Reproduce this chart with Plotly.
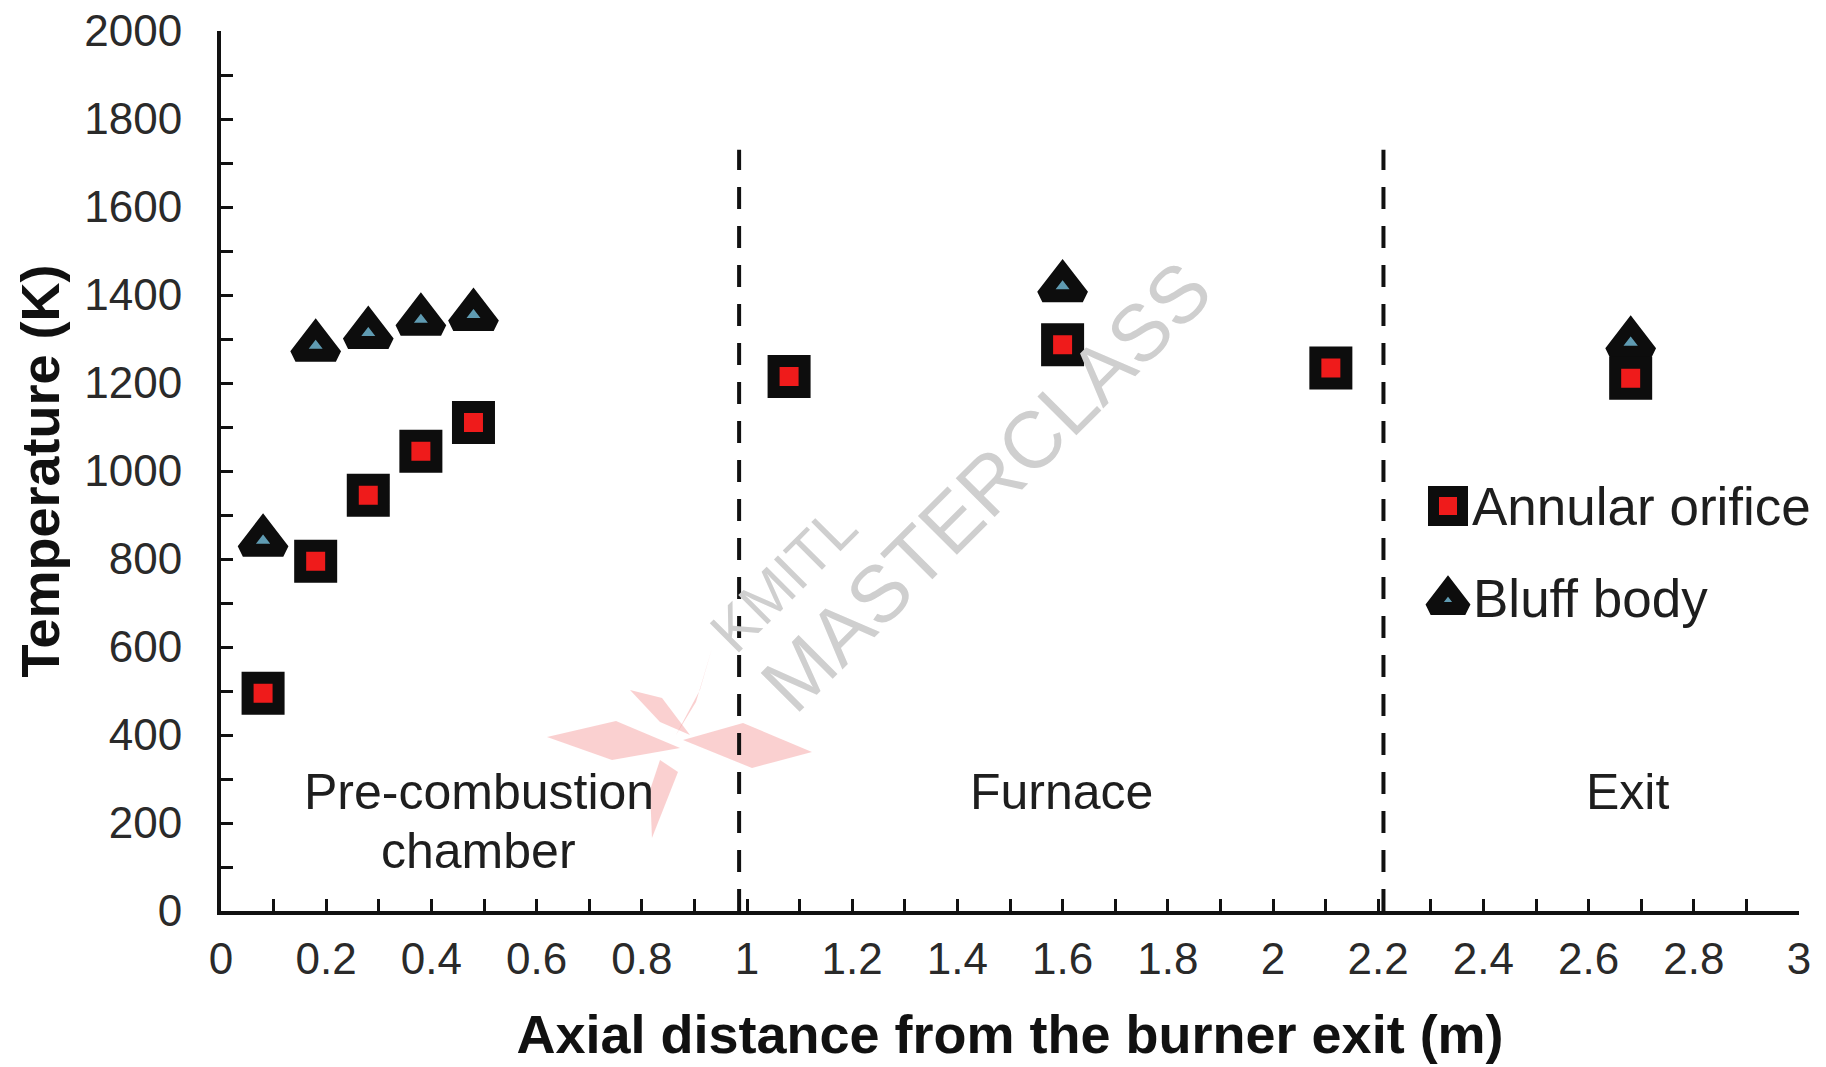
import plotly.graph_objects as go

# Measured gas temperatures along the burner axis
x_annular = [0.08, 0.18, 0.28, 0.38, 0.48, 1.08, 1.60, 2.11, 2.68]
t_annular = [495, 795, 945, 1045, 1110, 1215, 1287, 1234, 1211]

x_bluff = [0.08, 0.18, 0.28, 0.38, 0.48, 1.60, 2.68]
t_bluff = [840, 1283, 1312, 1342, 1353, 1418, 1290]

series_names = ["Annular orifice", "Bluff body"]

# Section boundaries (m) and section labels
boundaries = [0.985, 2.21]
boundary_top = 1730
region_labels = ["Pre-combustion", "chamber", "Furnace", "Exit"]

W, H = 1826, 1067
ML, MR, MT, MB = 221, 27, 31, 156
PW, PH = W - ML - MR, H - MT - MB


def px(xp, yp):
    """Pixel position on the page -> paper coordinates."""
    return (xp - ML) / PW, (H - MB - yp) / PH


fig = go.Figure()

sq_style = dict(symbol="square", size=31, color="#ef1b1b",
                line=dict(color="#0d0d0d", width=12))
tri_style = dict(symbol="triangle-up", size=35, color="#5f9bb2",
                 line=dict(color="#0d0d0d", width=13))

fig.add_trace(go.Scatter(x=x_bluff, y=t_bluff, mode="markers",
                         name=series_names[1], marker=tri_style,
                         showlegend=False))
fig.add_trace(go.Scatter(x=x_annular, y=t_annular, mode="markers",
                         name=series_names[0], marker=sq_style,
                         showlegend=False))

# Legend drawn on an overlay axis spanning the plot area
leg_x = px(1448, 0)[0]
leg_y = [px(0, 506)[1], px(0, 601)[1]]
fig.add_trace(go.Scatter(x=[leg_x], y=[leg_y[0]], xaxis="x2", yaxis="y2",
                         mode="markers", hoverinfo="skip", showlegend=False,
                         marker=dict(symbol="square", size=29, color="#ef1b1b",
                                     line=dict(color="#0d0d0d", width=11))))
fig.add_trace(go.Scatter(x=[leg_x], y=[leg_y[1]], xaxis="x2", yaxis="y2",
                         mode="markers", hoverinfo="skip", showlegend=False,
                         marker=dict(symbol="triangle-up", size=30, color="#5f9bb2",
                                     line=dict(color="#0d0d0d", width=13))))

shapes = []
for xb in boundaries:
    shapes.append(dict(type="line", xref="x", yref="y", x0=xb, x1=xb,
                       y0=0, y1=boundary_top,
                       line=dict(color="#111111", width=4, dash="22px,17px")))

# Faint logo behind the data
logo_polys = [
    [(547, 737), (616, 721), (680, 748), (612, 760)],
    [(683, 740), (743, 723), (812, 752), (752, 768)],
    [(676, 735), (700, 690), (712, 648), (696, 702)],
    [(630, 690), (662, 698), (690, 735), (660, 722)],
    [(660, 760), (678, 772), (652, 838), (650, 790)],
]
for poly in logo_polys:
    pts = [px(a, b) for a, b in poly]
    path = "M " + " L ".join(f"{p[0]:.4f},{p[1]:.4f}" for p in pts) + " Z"
    shapes.append(dict(type="path", xref="paper", yref="paper", path=path,
                       fillcolor="rgba(245,150,150,0.45)", line=dict(width=0),
                       layer="below"))

tick_font = dict(family="Liberation Sans, Arial", size=44, color="#2a2a2a")
title_font = dict(family="Liberation Sans, Arial", size=54, color="#111111")
label_font = dict(family="Liberation Sans, Arial", size=50, color="#1e1e1e")
legend_font = dict(family="Liberation Sans, Arial", size=53, color="#1e1e1e")

annotations = [
    dict(x=0.49, y=270, xref="x", yref="y", text=region_labels[0],
         showarrow=False, font=label_font),
    dict(x=0.49, y=136, xref="x", yref="y", text=region_labels[1],
         showarrow=False, font=label_font),
    dict(x=1.597, y=270, xref="x", yref="y", text=region_labels[2],
         showarrow=False, font=label_font),
    dict(x=2.673, y=270, xref="x", yref="y", text=region_labels[3],
         showarrow=False, font=label_font),
    dict(x=px(1470, 0)[0], y=leg_y[0], xref="paper", yref="paper",
         text=series_names[0], showarrow=False, xanchor="left",
         yanchor="middle", font=legend_font),
    dict(x=px(1471, 0)[0], y=px(0, 598)[1], xref="paper", yref="paper",
         text=series_names[1], showarrow=False, xanchor="left",
         yanchor="middle", font=legend_font),
    # watermark
    dict(x=px(986, 0)[0], y=px(0, 486)[1], xref="paper", yref="paper",
         text="MASTERCLASS", showarrow=False, textangle=-45,
         font=dict(family="Liberation Sans, Arial", size=80, color="#cfcfcf")),
    dict(x=px(783, 0)[0], y=px(0, 579)[1], xref="paper", yref="paper",
         text="KMITL", showarrow=False, textangle=-45,
         font=dict(family="Liberation Sans, Arial", size=60, color="#cfcfcf")),
]

axis_common = dict(showline=True, linewidth=4, linecolor="#111111",
                   ticks="inside", ticklen=12, tickwidth=3, tickcolor="#111111",
                   showgrid=False, zeroline=False, tickfont=tick_font)

fig.update_layout(
    width=W, height=H,
    margin=dict(l=ML, r=MR, t=MT, b=MB, autoexpand=False),
    paper_bgcolor="white", plot_bgcolor="white",
    showlegend=False,
    xaxis=dict(range=[0, 3], tick0=0, dtick=0.2,
               minor=dict(ticks="inside", dtick=0.1, ticklen=12, tickwidth=3,
                          tickcolor="#111111"),
               ticklabelstandoff=6,
               title=dict(text="<b>Axial distance from the burner exit (m)</b>",
                          font=title_font, standoff=34),
               **axis_common),
    yaxis=dict(range=[0, 2000], tick0=0, dtick=200,
               minor=dict(ticks="inside", dtick=100, ticklen=12, tickwidth=3,
                          tickcolor="#111111"),
               ticklabelstandoff=26,
               title=dict(text="<b>Temperature (K)</b>", font=title_font,
                          standoff=8),
               **axis_common),
    xaxis2=dict(range=[0, 1], overlaying="x", visible=False, fixedrange=True),
    yaxis2=dict(range=[0, 1], overlaying="y", visible=False, fixedrange=True),
    shapes=shapes,
    annotations=annotations,
)

fig.write_html("out.html")
